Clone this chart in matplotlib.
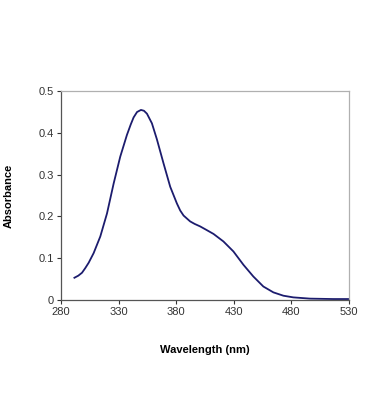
import matplotlib
matplotlib.use("Agg")
import matplotlib.pyplot as plt

plt.rcParams['font.family'] = ['Liberation Sans', 'DejaVu Sans']

wavelength = [291.6, 295.0, 298.2, 301.0, 304.0, 308.3, 314.1, 319.9, 325.7, 331.4,
              337.2, 340.5, 343.0, 346.0, 349.4, 352.0, 354.6, 358.9, 363.2, 369.0,
              374.8, 380.6, 383.5, 386.4, 392.1, 396.0, 400.8, 406.0, 412.4, 421.0,
              429.7, 438.4, 447.0, 455.7, 464.4, 473.1, 481.7, 496.2, 516.4, 530.0]
absorbance = [0.053, 0.058, 0.065, 0.076, 0.089, 0.112, 0.152, 0.207, 0.279, 0.343,
              0.395, 0.420, 0.437, 0.450, 0.455, 0.453, 0.446, 0.423, 0.385, 0.327,
              0.271, 0.231, 0.214, 0.202, 0.188, 0.182, 0.176, 0.168, 0.158, 0.140,
              0.116, 0.084, 0.056, 0.032, 0.018, 0.010, 0.006, 0.003, 0.002, 0.002]

x_ticks = [280, 330, 380, 430, 480, 530]
y_ticks = [0, 0.1, 0.2, 0.3, 0.4, 0.5]
y_labels = ['0', '0.1', '0.2', '0.3', '0.4', '0.5']

fig = plt.figure(figsize=(3.7, 4.2), dpi=100)
ax = fig.add_axes([0.165, 0.286, 0.778, 0.497])

ax.plot(wavelength, absorbance, color='#1c1c6e', linewidth=1.3)

ax.set_xlim(280, 530)
ax.set_ylim(0, 0.5)
ax.set_xticks(x_ticks)
ax.set_yticks(y_ticks)
ax.set_yticklabels(y_labels)
ax.tick_params(labelsize=8, colors='#333333', length=3, width=0.8, pad=2)

for side in ['left', 'bottom']:
    ax.spines[side].set_color('#555555')
    ax.spines[side].set_linewidth(0.9)
for side in ['top', 'right']:
    ax.spines[side].set_color('#b0b0b0')
    ax.spines[side].set_linewidth(0.9)

ax.set_xlabel('Wavelength (nm)', fontsize=8, fontweight='bold', labelpad=20)
ax.set_ylabel('Absorbance', fontsize=8, fontweight='bold', labelpad=18)

fig.savefig('out.png', dpi=100)
